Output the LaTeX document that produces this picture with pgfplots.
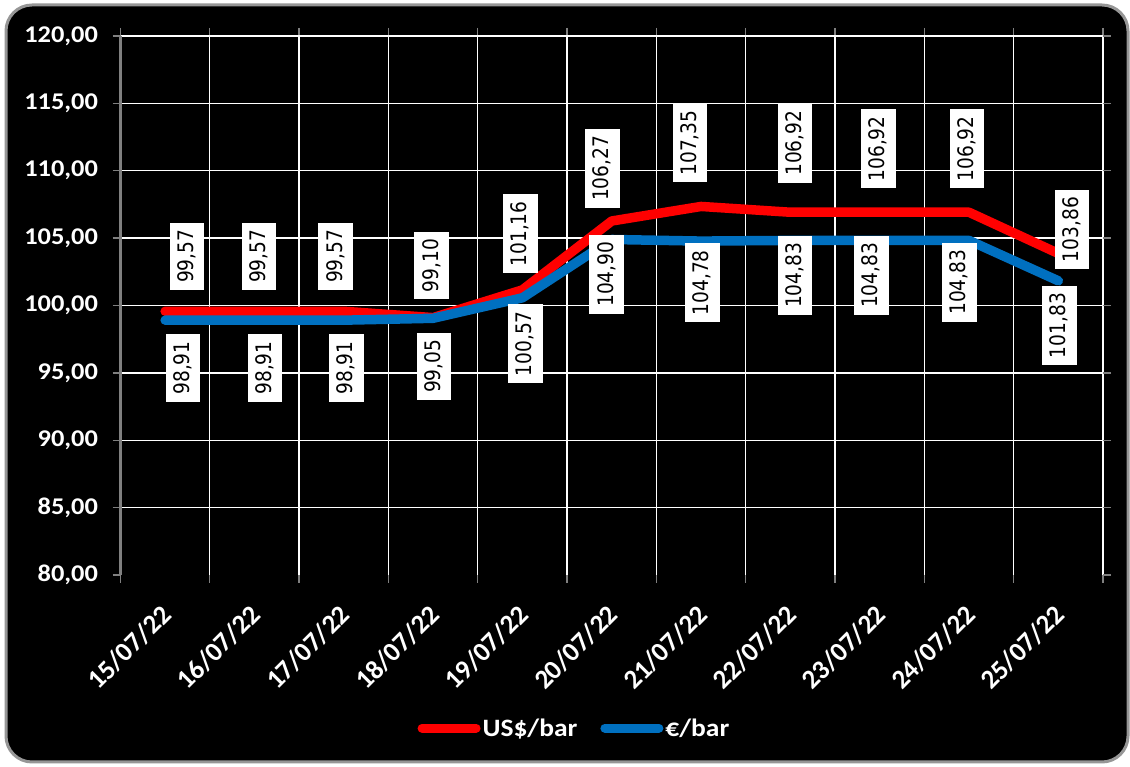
\documentclass[border=0pt]{standalone}
\usepackage{pgfplots}
\pgfplotsset{compat=1.18}
\usepackage{pgfplotstable}
\usepackage{fontspec}
\setmainfont{Carlito}[FakeStretch=1.1]
\newfontfamily\datefont{Carlito}
\newfontfamily\lblfont{DejaVu Sans}
\definecolor{usdred}{RGB}{255,0,0}
\definecolor{eurblue}{RGB}{0,112,192}
\definecolor{framegray}{RGB}{150,150,150}
\definecolor{axgray}{RGB}{128,128,128}

\pgfplotstableread{
x y dx dy lbl
0 99.57 22 55 99,57
1 99.57 4.5 55 99,57
2 99.57 -8 55 99,57
3 99.10 -1.4 52 99,10
4 101.16 -2 56 101,16
5 106.27 -9.4 52.7 106,27
6 107.35 -11 63.5 107,35
7 106.92 4.6 69 106,92
8 106.92 -1.3 63.3 106,92
9 106.92 -2 63.3 106,92
10 103.86 13.7 23.8 103,86
}\usd

\pgfplotstableread{
x y dx dy lbl
0 98.91 18 -47.8 98,91
1 98.91 10.5 -47.8 98,91
2 98.91 2.5 -47.8 98,91
3 99.05 1 -48 99,05
4 100.57 3 -45.9 100,57
5 104.90 -5 -34.7 104,90
6 104.78 1.6 -41.7 104,78
7 104.83 4.6 -35 104,83
8 104.83 -8.1 -35 104,83
9 104.83 -9.6 -41.8 104,83
10 101.83 1 -44.7 101,83
}\eur

\begin{document}
\begin{tikzpicture}
\path[use as bounding box] (0pt,0pt) rectangle (1130pt,767pt);
\fill[white] (0pt,0pt) rectangle (1130pt,767pt);
\draw[fill=black, draw=framegray, line width=3pt, rounded corners=26pt] (6pt,5pt) rectangle (1128pt,762pt);
\begin{axis}[
  at={(120.5pt,192pt)}, anchor=south west,
  scale only axis, width=982.5pt, height=539pt,
  xmin=-0.5, xmax=10.5, ymin=80, ymax=120,
  clip=false,
  axis line style={draw=none},
  xtick={0,...,10},
  xticklabels={15/07/22,16/07/22,17/07/22,18/07/22,19/07/22,20/07/22,21/07/22,22/07/22,23/07/22,24/07/22,25/07/22},
  major x tick style={draw=none},
  minor xtick={-0.5,0.5,...,10.5},
  xminorgrids=true,
  minor grid style={draw=white, line width=1.3pt},
  minor x tick style={draw=axgray, line width=1.3pt},
  minor tick length=8pt,
  tick align=outside,
  ytick={80,85,...,120},
  major y tick style={draw=axgray, line width=1.3pt},
  major tick length=8pt,
  extra y ticks={85,90,...,120},
  extra y tick labels={},
  extra y tick style={grid=major, major tick length=0pt},
  major grid style={draw=white, line width=1.3pt},
  yticklabel={\pgfmathprintnumber[fixed,fixed zerofill,precision=2,use comma,assume math mode=true]{\tick}},
  yticklabel style={text=white, font=\bfseries\fontsize{24}{24}\selectfont, anchor=east, xshift=-11pt},
  xticklabel style={text=white, font=\datefont\bfseries\fontsize{27}{27}\selectfont, rotate=45, anchor=north east, inner sep=2pt, xshift=-16pt, yshift=-8pt},
  legend style={at={(axis description cs:0.462,-0.284)}, anchor=center, draw=none, fill=none,
    text=white, font=\bfseries\fontsize{25}{25}\selectfont,
    /tikz/every even column/.append style={column sep=21pt}},
  legend columns=2,
  legend image code/.code={\draw[#1, line width=9pt, line cap=round] (0pt,0pt) -- (54pt,0pt);},
  extra description/.code={\draw[axgray, line width=2pt] (rel axis cs:0,0) -- (rel axis cs:0,1);},
]
\addplot[usdred, line width=9.5pt, line cap=round, line join=round] table[x=x,y=y] {\usd};
\addlegendentry{US\$/bar}
\addplot[eurblue, line width=9.5pt, line cap=round, line join=round] table[x=x,y=y] {\eur};
\addlegendentry{€/bar}
\addplot[draw=none, forget plot,
  point meta=explicit symbolic,
  visualization depends on={\thisrow{dx}\as\dx},
  visualization depends on={\thisrow{dy}\as\dy},
  nodes near coords={\scalebox{1}[1.15]{\lblfont\fontsize{18.6}{19}\selectfont\pgfplotspointmeta}},
  nodes near coords style={xshift=\dx pt, yshift=\dy pt, rotate=90, anchor=center, fill=white, text=black, inner xsep=7pt, inner ysep=8pt, text height=15.6pt, text depth=3pt},
] table[x=x,y=y,meta=lbl] {\usd};
\addplot[draw=none, forget plot,
  point meta=explicit symbolic,
  visualization depends on={\thisrow{dx}\as\dx},
  visualization depends on={\thisrow{dy}\as\dy},
  nodes near coords={\scalebox{1}[1.15]{\lblfont\fontsize{18.6}{19}\selectfont\pgfplotspointmeta}},
  nodes near coords style={xshift=\dx pt, yshift=\dy pt, rotate=90, anchor=center, fill=white, text=black, inner xsep=7pt, inner ysep=8pt, text height=15.6pt, text depth=3pt},
] table[x=x,y=y,meta=lbl] {\eur};
\end{axis}
\end{tikzpicture}
\end{document}
